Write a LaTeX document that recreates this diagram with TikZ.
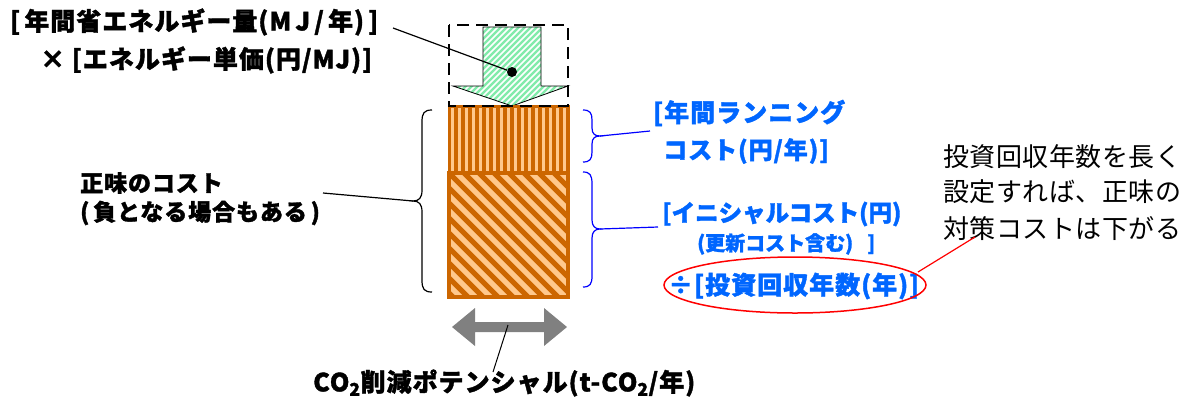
\documentclass[tikz,border=0pt]{standalone}
\usepackage{fontspec}
\setmainfont{Noto Sans CJK JP}
\newfontfamily\hb{Noto Sans CJK JP}[LetterSpace=4,BoldFeatures={FakeBold=1.5}]
\newfontfamily\hbz{Noto Sans CJK JP}[BoldFeatures={FakeBold=1.5}]
\newfontfamily\nr{Noto Sans CJK JP}[LetterSpace=2]
\usetikzlibrary{arrows.meta}
\definecolor{orng}{RGB}{204,102,0}
\definecolor{peach}{RGB}{255,200,140}
\definecolor{lgreen}{RGB}{130,235,170}
\definecolor{tblue}{RGB}{0,102,255}
\definecolor{bblue}{RGB}{0,0,255}
\definecolor{agray}{RGB}{128,128,128}
\tikzset{
  lbl/.style={inner sep=0pt, anchor=west, font=\hb\bfseries\fontsize{25}{30}\selectfont},
  blbl/.style={lbl, text=tblue},
  note/.style={inner sep=0pt, anchor=west, font=\nr\fontsize{26}{30}\selectfont},
  conn/.style={line width=1.2pt},
}
\begin{document}
\begin{tikzpicture}[x=1pt,y=-1pt]
\useasboundingbox (0,0) rectangle (1192,400);

% green arrow
\path[fill=lgreen] (483,27) -- (541,27) -- (541,86) -- (568,86) -- (512,106) -- (453,86) -- (483,86) -- cycle;
\begin{scope}
\clip (483,27) -- (541,27) -- (541,86) -- (568,86) -- (512,106) -- (453,86) -- (483,86) -- cycle;
\foreach \i in {0,6,...,210} \draw[white, line width=1.5pt] (453+\i-100,106) -- ++(100,-100);
\end{scope}
\draw[line width=0.8pt] (483,27) -- (541,27) -- (541,86) -- (568,86) -- (512,106) -- (453,86) -- (483,86) -- cycle;

% upper orange block
\fill[peach] (449,106) rectangle (568,173);
\begin{scope}
\clip (449,106) rectangle (568,173);
\foreach \i in {0,7,...,126} \draw[orng, line width=4pt] (449+\i,106) -- (449+\i,173);
\end{scope}
\draw[orng, line width=3pt] (449,106) rectangle (568,173);
% lower orange block
\fill[peach] (449,173) rectangle (568,297);
\begin{scope}
\clip (449,173) rectangle (568,297);
\foreach \i in {-135,-120,...,135} \draw[orng, line width=5pt] (449+\i,173) -- ++(130,130);
\end{scope}
\draw[orng, line width=4pt] (449,173) rectangle (568,297);

% dashed box
\draw[line width=2.8pt, dash pattern=on 12pt off 7pt] (449,25) rectangle (568,106);

% dot and leader
\node[circle, fill=black, inner sep=0pt, minimum size=10pt] (dot) at (512,72) {};
\node[lbl] (t1) at (10,22) {[\,年間省エネルギー量(M\,J\,/\,年)\,]};
\node[lbl] (t2) at (40,60) {× [エネルギー単価(円/MJ)]};
\coordinate (c1) at (393,28);
\draw[conn] (c1) -- (dot);

% left brace
\coordinate (lb) at (413,201);
\draw[conn] (432,110) .. controls (424,110) and (422,113) .. (422,122) -- (422,190) .. controls (422,198) and (419,201) .. (lb) .. controls (419,201) and (422,204) .. (422,212) -- (422,280) .. controls (422,289) and (424,292) .. (432,292);
\node[lbl, font=\hb\bfseries\fontsize{23}{28}\selectfont] (n1) at (80,183) {正味のコスト};
\node[lbl, font=\hb\bfseries\fontsize{23}{28}\selectfont] (n2) at (80,213) {(\,負となる場合もある\,)};
\coordinate (c2) at (323,193);
\draw[conn] (c2) -- (lb);

% blue braces
\coordinate (ub) at (600,136);
\draw[conn, bblue] (583,110) .. controls (590,110) and (592,113) .. (592,120) -- (592,128) .. controls (592,134) and (595,136) .. (ub) .. controls (595,136) and (592,138) .. (592,144) -- (592,152) .. controls (592,159) and (590,162) .. (583,162);
\coordinate (mb) at (600,229);
\draw[conn, bblue] (583,172) .. controls (590,172) and (592,175) .. (592,184) -- (592,220) .. controls (592,226) and (595,229) .. (mb) .. controls (595,229) and (592,232) .. (592,238) -- (592,276) .. controls (592,284) and (590,287) .. (583,287);

\node[blbl] (b1) at (653,113) {[年間ランニング};
\node[blbl, font=\hb\bfseries\fontsize{24}{28}\selectfont] (b2) at (663,151) {コスト(円/年)]};
\node[blbl, font=\hbz\bfseries\fontsize{23.5}{28}\selectfont] (b3) at (662,214) {[イニシャルコスト(円)};
\node[blbl, font=\hbz\bfseries\fontsize{20}{24}\selectfont] (b4) at (697,244) {(更新コスト含む)\hspace{14pt}]};
\node[blbl] (b5) at (668,286) {÷[投資回収年数(年)]};
\coordinate (c3) at (650,131);
\coordinate (c4) at (658,227);
\draw[conn, bblue] (ub) -- (c3);
\draw[conn, bblue] (mb) -- (c4);

% red ellipse
\draw[red, line width=1.5pt] (795,285) ellipse [x radius=131, y radius=28];
\node[note] (r1) at (943,157) {投資回収年数を長く};
\node[note] (r2) at (943,192) {設定すれば、正味の};
\node[note] (r3) at (943,229) {対策コストは下がる};
\coordinate (e1) at (918,272);
\coordinate (e2) at (975,237);
\draw[red, line width=1.2pt] (e1) -- (e2);

% gray double arrow
\fill[agray] (452,327) -- (475,308) -- (475,322) -- (544,322) -- (544,308) -- (567,327) -- (544,346) -- (544,332) -- (475,332) -- (475,346) -- cycle;
\coordinate (g1) at (508,325);
\node[lbl] (bt) at (313,383) {CO\textsubscript{2}削減ポテンシャル(t-CO\textsubscript{2}/年)};
\coordinate (g2) at (493,372);
\draw[line width=1pt] (g1) -- (g2);
\end{tikzpicture}
\end{document}
